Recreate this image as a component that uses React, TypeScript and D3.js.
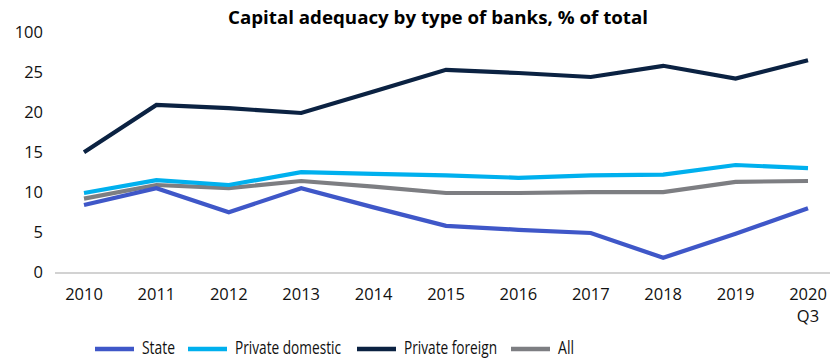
import React from "react";
import * as d3 from "d3";

const years = ["2010", "2011", "2012", "2013", "2014", "2015", "2016", "2017", "2018", "2019", "2020"];
const yTicks = [0, 5, 10, 15, 20, 25, 30];
const yTickLabels = ["0", "5", "10", "15", "20", "25", "100"];
const stateVals = [8.5, 10.6, 7.6, 10.6, 8.2, 5.9, 5.4, 5.0, 1.9, 4.9, 8.1];
const privDomVals = [10.0, 11.6, 11.0, 12.6, 12.4, 12.2, 11.9, 12.2, 12.3, 13.5, 13.1];
const privForVals = [15.1, 21.0, 20.6, 20.0, 22.7, 25.4, 25.0, 24.5, 25.9, 24.3, 26.6];
const allVals = [9.3, 11.0, 10.6, 11.5, 10.8, 10.0, 10.0, 10.1, 10.1, 11.4, 11.5];

const seriesNames = ["State", "Private domestic", "Private foreign", "All"];
const seriesColors = ["#3f57c8", "#00b0ee", "#0b2242", "#7d7e82"];
const seriesData = [stateVals, privDomVals, privForVals, allVals];
const drawOrder = [2, 3, 1, 0];

const W = 836, H = 360;
const font = "'Open Sans', Lato, sans-serif";

export default function App() {
  const x = d3.scalePoint<string>().domain(years).range([84, 808]);
  const y = d3.scaleLinear().domain([0, 30]).range([273, 33]);
  const line = d3.line<number>().x((_, i) => x(years[i]) as number).y((d) => y(d));
  const legendX = [95, 188, 357, 511];
  const legendW = [33, 106, 93, 16];

  return (
    <svg width={W} height={H} style={{ position: "absolute", left: 0, top: 0, background: "#fff" }}>
      <text x={228} y={24} textLength={420} lengthAdjust="spacingAndGlyphs" fontFamily={font} fontWeight={700} fontSize={18.5} fill="#000">
        Capital adequacy by type of banks, % of total
      </text>
      {yTicks.map((t, i) => (
        <text key={t} x={43} y={y(t) + 5} textAnchor="end" fontFamily={font} fontSize={16.5} fill="#111">
          {yTickLabels[i]}
        </text>
      ))}
      <line x1={55} x2={830} y1={y(0)} y2={y(0)} stroke="#a6a6a6" strokeWidth={1.2} />
      {years.map((yr) => (
        <text key={yr} x={x(yr) as number} y={300} textAnchor="middle" fontFamily={font} fontSize={16.5} fill="#111">
          {yr}
        </text>
      ))}
      <text x={x("2020") as number} y={322} textAnchor="middle" fontFamily={font} fontSize={16.5} fill="#111">
        Q3
      </text>
      {drawOrder.map((si) => (
        <path key={si} d={line(seriesData[si]) || ""} fill="none" stroke={seriesColors[si]} strokeWidth={4.2} strokeLinejoin="miter" />
      ))}
      {seriesNames.map((n, i) => (
        <g key={n}>
          <line x1={legendX[i]} x2={legendX[i] + 39} y1={349} y2={349} stroke={seriesColors[i]} strokeWidth={4.5} />
          <text x={legendX[i] + 47} y={354} textLength={legendW[i]} lengthAdjust="spacingAndGlyphs" fontFamily={font} fontSize={18} fill="#111">
            {n}
          </text>
        </g>
      ))}
    </svg>
  );
}
